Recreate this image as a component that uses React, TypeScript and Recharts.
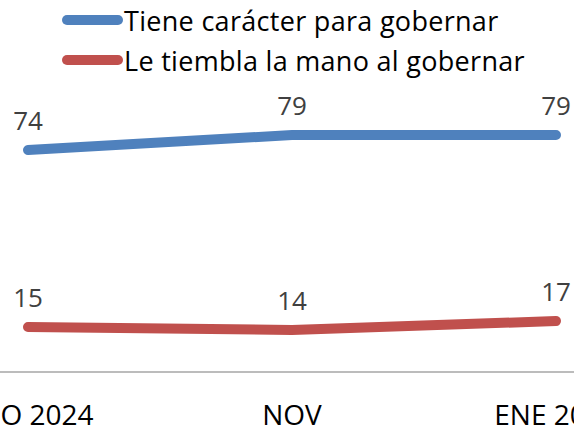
import React from "react";
import { LineChart, Line, XAxis, YAxis, Legend, LabelList } from "recharts";

const categories = ["AGO 2024", "NOV", "ENE 2025"];
const tieneCaracter = [74, 79, 79];
const tiemblaMano = [15, 14, 17];
const seriesNames = ["Tiene carácter para gobernar", "Le tiembla la mano al gobernar"];
const seriesColors = ["#4F81BD", "#C0504D"];

const data = categories.map((c, i) => ({ cat: c, a: tieneCaracter[i], b: tiemblaMano[i] }));

const FONT = "'Open Sans', 'Noto Sans', sans-serif";

const renderLegend = () => (
  <div style={{ position: "relative", height: 0 }}>
    <div style={{ position: "absolute", left: 0, top: 0, width: 574 }}>
      {seriesNames.map((name, i) => (
        <div
          key={name}
          style={{
            position: "absolute",
            left: 62,
            top: i * 40,
            height: 40,
            display: "flex",
            alignItems: "center",
            whiteSpace: "nowrap",
          }}
        >
          <svg width={62} height={40} style={{ display: "block" }}>
            <line x1={5} y1={20} x2={56} y2={20} stroke={seriesColors[i]} strokeWidth={10} strokeLinecap="round" />
          </svg>
          <span style={{ fontFamily: FONT, fontSize: 27, color: "#000", marginLeft: 0, letterSpacing: 0.3 }}>{name}</span>
        </div>
      ))}
    </div>
  </div>
);

export default function App() {
  return (
    <div style={{ position: "absolute", left: 0, top: 0, width: 574, height: 428, background: "#fff" }}>
      <LineChart width={574} height={428} data={data} margin={{ top: 72, right: 0, bottom: 0, left: 0 }}>
        <XAxis
          dataKey="cat"
          interval={0}
          tickLine={false}
          axisLine={{ stroke: "#A6A6A6", strokeWidth: 1.5 }}
          padding={{ left: 28, right: 18 }}
          height={56}
          tickSize={6}
          tickMargin={27}
          tick={{ fill: "#000", fontSize: 28, fontFamily: FONT }}
        />
        <YAxis hide domain={[0, 100]} />
        <Legend verticalAlign="top" content={renderLegend} wrapperStyle={{ top: 0, left: 0 }} />
        <Line
          dataKey="a"
          stroke={seriesColors[0]}
          strokeWidth={10}
          strokeLinecap="round"
          dot={false}
          isAnimationActive={false}
        >
          <LabelList dataKey="a" position="top" offset={20} fill="#404040" fontSize={26} fontFamily={FONT} />
        </Line>
        <Line
          dataKey="b"
          stroke={seriesColors[1]}
          strokeWidth={10}
          strokeLinecap="round"
          dot={false}
          isAnimationActive={false}
        >
          <LabelList dataKey="b" position="top" offset={20} fill="#404040" fontSize={26} fontFamily={FONT} />
        </Line>
      </LineChart>
    </div>
  );
}
